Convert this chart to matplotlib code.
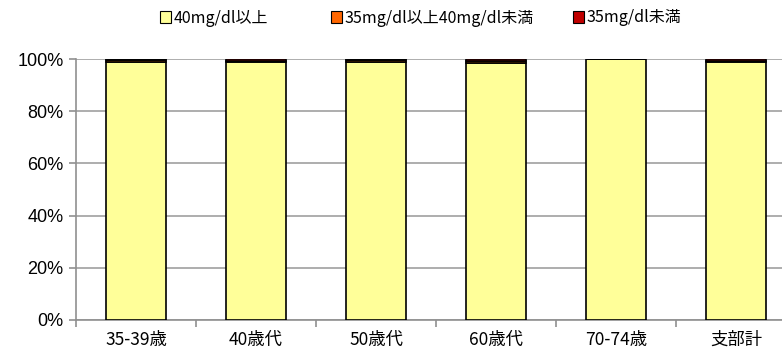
import matplotlib
matplotlib.use("Agg")
import matplotlib.pyplot as plt
import numpy as np
from matplotlib.patches import Patch

categories = ["35-39歳", "40歳代", "50歳代", "60歳代", "70-74歳", "支部計"]
series_names = ["40mg/dl以上", "35mg/dl以上40mg/dl未満", "35mg/dl未満"]
high = [99.0, 98.8, 98.9, 98.3, 100.0, 98.8]
mid = [0.5, 0.6, 0.6, 0.9, 0.0, 0.6]
low = [0.5, 0.6, 0.5, 0.8, 0.0, 0.6]
colors = ["#FFFF99", "#FF6600", "#C00000"]
yticks = [0, 20, 40, 60, 80, 100]

jp = ["Noto Sans CJK JP", "DejaVu Sans"]

fig = plt.figure(figsize=(7.82, 3.5), dpi=100)
ax = fig.add_axes([76/782, 30/350, 720/782, 261/350])

x = np.arange(len(categories))
bottom = np.zeros(len(categories))
for vals, c in zip([high, mid, low], colors):
    ax.bar(x, vals, bottom=bottom, width=0.5, color=c, edgecolor="black",
           linewidth=1.2, zorder=3)
    bottom = bottom + np.array(vals)

ax.set_xlim(-0.5, len(categories) - 0.5)
ax.set_ylim(0, 100)
ax.set_yticks(yticks)
ax.set_yticklabels([f"{v}%" for v in yticks], family=["Liberation Sans"], fontsize=13)
ax.yaxis.grid(True, color="#A0A0A0", linewidth=1.2, zorder=0)
ax.set_xticks(np.arange(len(categories) + 1) - 0.5, minor=False)
ax.set_xticklabels([])
ax.set_xticks(x, minor=True)
ax.set_xticklabels(categories, minor=True, family=jp, fontsize=12.5)
ax.tick_params(axis="x", which="minor", length=0, pad=8)
ax.tick_params(axis="x", which="major", length=5, color="#909090", width=1.2)
ax.tick_params(axis="y", length=5, color="#909090", width=1.2, pad=4)

for s in ["top", "right"]:
    ax.spines[s].set_visible(False)
for s in ["left", "bottom"]:
    ax.spines[s].set_color("#909090")
    ax.spines[s].set_linewidth(1.2)

leg_x = [160, 331, 573]
for name, c, lx in zip(series_names, colors, leg_x):
    h = Patch(facecolor=c, edgecolor="black", linewidth=0.8)
    fig.legend([h], [name], loc="center left", bbox_to_anchor=(lx/782, 1 - 18/350),
               frameon=False, prop={"family": jp, "size": 11.5},
               handlelength=0.7, handleheight=0.7, handletextpad=0.15,
               borderpad=0, borderaxespad=0)

fig.savefig("out.png", dpi=100)
